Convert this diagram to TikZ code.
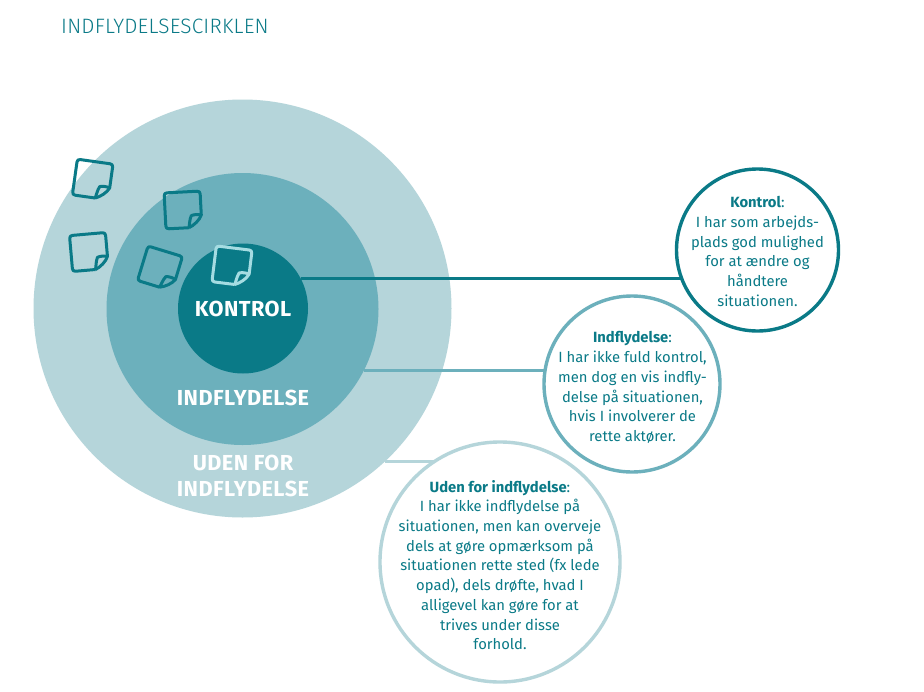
\documentclass[tikz,border=0pt]{standalone}
\usepackage{fontspec}
\setmainfont{Fira Sans}
\newfontfamily\lightfont{Fira Sans Light}
\definecolor{tealdark}{HTML}{0A7A87}
\definecolor{tealmid}{HTML}{6CB0BC}
\definecolor{teallight}{HTML}{B5D5DA}
\definecolor{notelight}{HTML}{A5DCE2}
\tikzset{
  disc/.style={circle,inner sep=0pt,outer sep=0pt,minimum size=#1},
  callout/.style={circle,draw,fill=white,line width=3.4pt,inner sep=0pt,outer sep=0pt,minimum size=#1},
  callouttext/.style={inner sep=0pt,text=tealdark,align=center,font=\fontsize{14.8}{19.7}\selectfont},
  link/.style={line width=3pt},
  ringlabel/.style={text=white,align=center,inner sep=0pt,font=\fontsize{21.7}{26}\selectfont\bfseries\addfontfeatures{LetterSpace=2}},
  notepic/.pic={
    \draw[pic actions,line width=3pt,line join=round]
      (5,18) -- (-15,18) .. controls (-17,18) and (-18,17) .. (-18,15)
      -- (-18,-15) .. controls (-18,-17) and (-17,-18) .. (-15,-18)
      -- (15,-18) .. controls (17,-18) and (18,-17) .. (18,-15)
      -- (18,6) .. controls (16,11) and (10,16) .. (5,18);
    \draw[pic actions,line width=3pt,line join=round]
      (5,18) .. controls (6,14) and (6,10) .. (8,6) .. controls (11,5) and (15,5) .. (18,6);
  }
}
\begin{document}
\begin{tikzpicture}[x=1pt,y=-1pt]
\useasboundingbox (0,0) rectangle (924,691);
\fill[white] (0,0) rectangle (924,691);
\node[anchor=west,inner sep=0pt,text=tealdark,font=\fontsize{20.8}{24}\selectfont\lightfont\addfontfeatures{LetterSpace=1}] (title) at (61,26) {INDFLYDELSESCIRKLEN};

\node[disc=418pt,fill=teallight] (outer) at (242.5,308.5) {};
\node[disc=272pt,fill=tealmid] (middle) at (242.5,309) {};
\node[disc=130pt,fill=tealdark] (inner) at (243,308.5) {};

\pic[draw=tealdark,rotate=-8] at (92.7,179.5) {notepic};
\pic[draw=tealdark,rotate=3] at (183,210) {notepic};
\pic[draw=tealdark,rotate=5] at (89,252) {notepic};
\pic[draw=tealdark,rotate=-17] at (160,268.5) {notepic};
\pic[draw=notelight,rotate=-7] at (232,266) {notepic};

\node[ringlabel] (lkontrol) at (243,309) {KONTROL};
\node[ringlabel] (lindfl) at (243,398) {INDFLYDELSE};
\node[ringlabel] (luden) at (243,476) {UDEN FOR\\INDFLYDELSE};

\node[callout=162pt,draw=tealdark] (ckontrol) at (757.5,250) {};
\node[callout=176pt,draw=tealmid] (cindfl) at (632,384) {};
\node[callout=240pt,draw=teallight] (cuden) at (500,562) {};

\draw[link,draw=tealdark] (inner.27.5) -- (inner.27.5 -| ckontrol.200);
\draw[link,draw=tealmid] (middle.-27.2) -- (middle.-27.2 -| cindfl.171);
\draw[link,draw=teallight] (outer.-47.7) -- (outer.-47.7 -| cuden.123.6);

\node[callouttext] (tkontrol) at (757.5,251.5) {\textbf{Kontrol}:\\I har som arbejds-\\plads god mulighed\\for at ændre og\\håndtere\\situationen.};
\node[callouttext] (tindfl) at (632.5,387.5) {\textbf{Indflydelse}:\\I har ikke fuld kontrol,\\men dog en vis indfly-\\delse på situationen,\\hvis I involverer de\\rette aktører.};
\node[callouttext] (tuden) at (500,565) {\textbf{Uden for indflydelse}:\\I har ikke indflydelse på\\situationen, men kan overveje\\dels at gøre opmærksom på\\situationen rette sted (fx lede\\opad), dels drøfte, hvad I\\alligevel kan gøre for at\\trives under disse\\forhold.};
\end{tikzpicture}
\end{document}
